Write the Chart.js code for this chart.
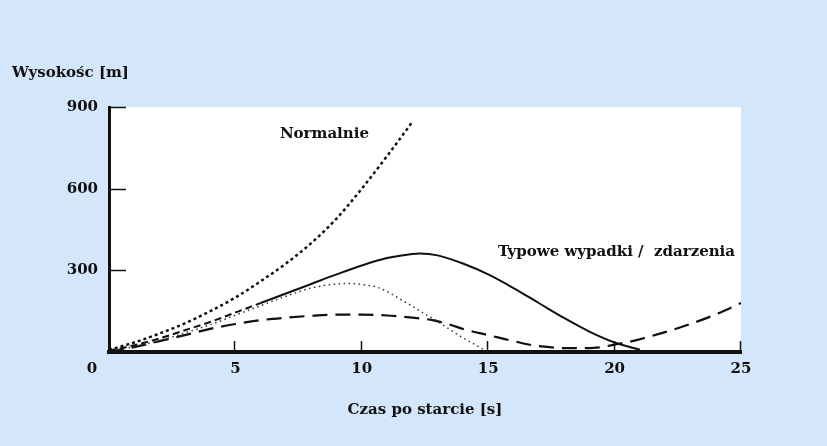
<!DOCTYPE html>
<html>
<head>
<meta charset="utf-8">
<script src="https://cdn.jsdelivr.net/npm/chart.js@4/dist/chart.umd.min.js"></script>
<style>
    body { margin: 0; background: #d4e7fa; }
    #wrap { width: 827px; height: 446px; }
</style>
</head>
<body>
<div id="wrap"><canvas id="heightChart"></canvas></div>
<script>
// dane (czas [s], wysokosc [m])
const normalX = [0, 1, 2, 3, 4, 5, 6, 7, 8, 9, 10, 11, 12];
const normalY = [8, 35, 68, 105, 150, 200, 260, 325, 400, 490, 600, 720, 845];

const solidX = [0, 1, 2, 3, 4, 5, 6, 7, 8, 9, 10, 11, 12, 12.3, 13, 14, 15, 16, 17, 18, 19, 20, 21];
const solidY = [5, 25, 50, 80, 110, 145, 180, 215, 250, 285, 318, 345, 360, 362, 355, 325, 285, 235, 180, 125, 75, 35, 8];

const dottedX = [0, 1, 2, 3, 4, 5, 6, 7, 8, 9, 9.5, 10, 10.6, 11, 11.5, 12, 12.4, 13, 13.5, 14, 14.5, 14.8];
const dottedY = [3, 20, 42, 70, 100, 135, 170, 205, 235, 250, 252, 248, 238, 222, 195, 168, 145, 112, 82, 52, 26, 10];

const dashedX = [0, 1, 2, 3, 4, 5, 6, 7, 8, 9, 10, 11, 12, 12.8, 13.5, 14.1, 15, 15.5, 16, 16.8, 17.5, 18.1, 19, 19.4, 20, 20.7, 21, 22, 23, 24, 25];
const dashedY = [0, 18, 40, 62, 85, 103, 117, 126, 133, 137, 137, 134, 126, 117, 100, 82, 62, 51, 40, 24, 17, 14, 14, 17, 27, 40, 47, 73, 103, 138, 180];

const xTicks = [5, 10, 15, 20, 25];
const yTicks = [300, 600, 900];

const labelNormal = { text: 'Normalnie', x: 6.76, y: 801 };
const labelAccident = { text: 'Typowe wypadki /  zdarzenia', x: 15.39, y: 367 };

const fontName = "'DejaVu Serif', serif";
const ink = '#111111';

function toPoints(xs, ys) {
    return xs.map((x, i) => ({ x: x, y: ys[i] }));
}

// biale tlo pola wykresu, kreski podzialki do srodka, etykiety
const extras = {
    id: 'extras',
    beforeDraw(chart) {
        const a = chart.chartArea;
        const ctx = chart.ctx;
        ctx.save();
        ctx.fillStyle = '#ffffff';
        ctx.fillRect(a.left, a.top, a.right - a.left, a.bottom - a.top);
        ctx.restore();
    },
    afterDraw(chart) {
        const ctx = chart.ctx;
        const xs = chart.scales.x;
        const ys = chart.scales.y;
        const a = chart.chartArea;
        ctx.save();
        ctx.strokeStyle = ink;
        ctx.lineWidth = 1.5;
        yTicks.forEach(v => {
            const py = Math.round(ys.getPixelForValue(v)) + 0.5;
            ctx.beginPath();
            ctx.moveTo(a.left, py);
            ctx.lineTo(a.left + 17, py);
            ctx.stroke();
        });
        xTicks.forEach(v => {
            const px = Math.round(xs.getPixelForValue(v)) - 0.5;
            ctx.beginPath();
            ctx.moveTo(px, a.bottom);
            ctx.lineTo(px, a.bottom - 11);
            ctx.stroke();
        });

        ctx.fillStyle = ink;
        ctx.font = 'bold 15px ' + fontName;
        ctx.textBaseline = 'middle';
        ctx.textAlign = 'center';
        ctx.fillText('0', xs.getPixelForValue(0) - 17, ys.getPixelForValue(0) + 17);

        ctx.textAlign = 'left';
        [labelNormal, labelAccident].forEach(l => {
            ctx.fillText(l.text, xs.getPixelForValue(l.x), ys.getPixelForValue(l.y));
        });
        ctx.restore();
    }
};

const ctx = document.getElementById('heightChart').getContext('2d');
new Chart(ctx, {
    type: 'line',
    data: {
        datasets: [
            {
                label: 'Normalnie',
                data: toPoints(normalX, normalY),
                borderColor: ink,
                borderWidth: 2.5,
                borderDash: [3, 3]
            },
            {
                label: 'Wypadek 1',
                data: toPoints(solidX, solidY),
                borderColor: ink,
                borderWidth: 2,
                segment: {
                    borderDash: c => c.p0.parsed.x < 6 ? [7, 4] : undefined
                }
            },
            {
                label: 'Wypadek 2',
                data: toPoints(dottedX, dottedY),
                borderColor: '#333333',
                borderWidth: 1.5,
                borderDash: [1.5, 3.5]
            },
            {
                label: 'Wypadek 3',
                data: toPoints(dashedX, dashedY),
                borderColor: ink,
                borderWidth: 2.2,
                borderDash: [15, 8]
            }
        ]
    },
    options: {
        responsive: true,
        maintainAspectRatio: false,
        animation: false,
        cubicInterpolationMode: 'monotone',
        elements: {
            point: { radius: 0 },
            line: { tension: 0.4, fill: false }
        },
        layout: { padding: { left: 12, right: 86, top: 0, bottom: 0 } },
        plugins: {
            legend: { display: false },
            tooltip: { enabled: false },
            title: {
                display: true,
                text: 'Wysokośc [m]',
                align: 'start',
                color: ink,
                font: { family: fontName, size: 15, weight: 'bold', lineHeight: 1.2 },
                padding: { top: 64, bottom: 25 }
            }
        },
        scales: {
            x: {
                type: 'linear',
                min: 0,
                max: 25,
                afterFit: s => { s.height = 94; },
                grid: { display: false, drawTicks: false },
                border: { display: true, color: ink, width: 4 },
                ticks: {
                    stepSize: 5,
                    padding: 8,
                    color: ink,
                    font: { family: fontName, size: 15, weight: 'bold' },
                    callback: v => v === 0 ? '' : v
                },
                title: {
                    display: true,
                    text: 'Czas po starcie [s]',
                    color: ink,
                    font: { family: fontName, size: 15, weight: 'bold', lineHeight: 1.2 },
                    padding: { top: 4, bottom: 27 }
                }
            },
            y: {
                min: 0,
                max: 900,
                afterFit: s => { s.width = 97; },
                grid: { display: false, drawTicks: false },
                border: { display: true, color: ink, width: 3 },
                ticks: {
                    stepSize: 300,
                    padding: 11,
                    color: ink,
                    font: { family: fontName, size: 15, weight: 'bold' },
                    callback: v => v === 0 ? '' : v
                }
            }
        }
    },
    plugins: [extras]
});
</script>
</body>
</html>
